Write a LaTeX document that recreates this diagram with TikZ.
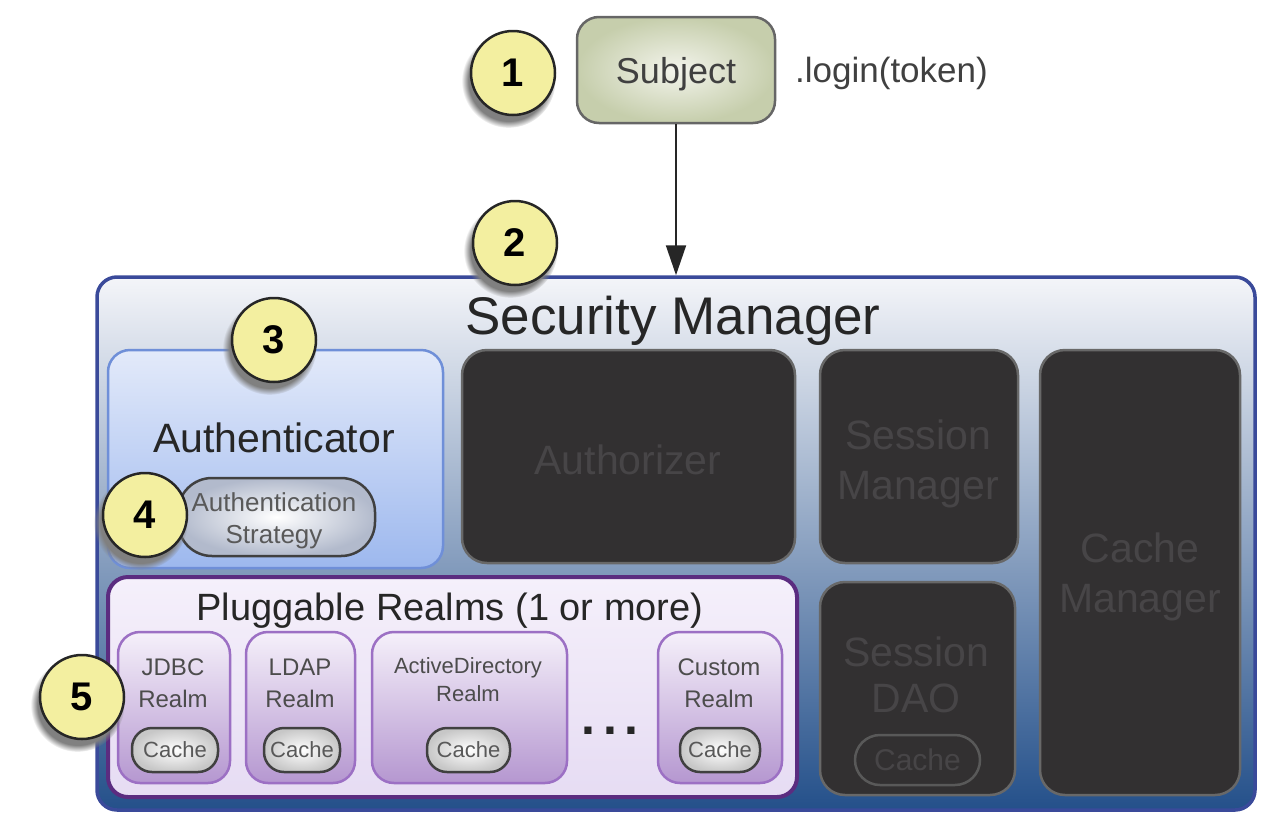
\documentclass[tikz,border=0pt]{standalone}
\usepackage{fontspec}
\setmainfont{Liberation Sans}
\usetikzlibrary{shadows,arrows.meta}

\definecolor{numfill}{HTML}{F3EFA0}
\definecolor{subjin}{HTML}{F3F4EC}
\definecolor{subjout}{HTML}{C6CEAC}
\definecolor{smline}{HTML}{3A4A9A}
\definecolor{smtop}{HTML}{F4F5F9}
\definecolor{smmid}{HTML}{BCC9D7}
\definecolor{smbot}{HTML}{24508A}
\definecolor{authline}{HTML}{6F8FD8}
\definecolor{authtop}{HTML}{E3EAFA}
\definecolor{authbot}{HTML}{9DB8EE}
\definecolor{stratout}{HTML}{B2BACC}
\definecolor{darkfill}{HTML}{323031}
\definecolor{darkline}{HTML}{686868}
\definecolor{darktxt}{HTML}{474547}
\definecolor{realmsline}{HTML}{5B2C80}
\definecolor{realmstop}{HTML}{F5F0FB}
\definecolor{realmsbot}{HTML}{E6DCF3}
\definecolor{realmline}{HTML}{9C70C4}
\definecolor{realmtop}{HTML}{F5F0FA}
\definecolor{realmmid}{HTML}{D8C6E8}
\definecolor{realmbot}{HTML}{B597D0}

\begin{document}
\begin{tikzpicture}
[x=1pt,y=-1pt,%
  every node/.style={align=center,inner sep=0pt},%
  num/.style={circle,draw=black!85,line width=2.5pt,fill=numfill,minimum size=84pt,
    font=\fontsize{40}{40}\selectfont\bfseries,
    circular drop shadow={shadow xshift=-4pt,shadow yshift=-7pt,shadow scale=1.12}},%
  subjbox/.style={draw=black!60,line width=2.5pt,rounded corners=22pt,
    inner color=subjin,outer color=subjout,minimum width=198pt,minimum height=106pt,
    font=\fontsize{36}{40}\selectfont,text=black!75,text depth=0pt},%
  smbox/.style={draw=smline,line width=3.5pt,rounded corners=20pt,
    top color=smtop,middle color=smmid,bottom color=smbot},%
  authbox/.style={draw=authline,line width=2.5pt,rounded corners=22pt,
    top color=authtop,bottom color=authbot},%
  pill/.style={draw=black!75,line width=2.5pt,rounded corners=20pt,
    inner color=white,outer color=black!22,text=black!65},%
  darkbox/.style={draw=darkline,line width=2.5pt,rounded corners=25pt,fill=darkfill},%
  darklabel/.style={text=darktxt,font=\fontsize{41}{50}\selectfont},%
  realmsbox/.style={draw=realmsline,line width=4pt,rounded corners=20pt,
    top color=realmstop,bottom color=realmsbot},%
  realmbox/.style={draw=realmline,line width=2.5pt,rounded corners=22pt,
    top color=realmtop,middle color=realmmid,bottom color=realmbot,minimum height=151pt},%
  realmtxt/.style={text=black!70,font=\fontsize{24}{32}\selectfont},%
  cache/.style={pill,minimum width=#1,minimum height=44pt,font=\fontsize{22}{24}\selectfont}]
\useasboundingbox (0,0) rectangle (1265,825);

\node[subjbox] (subj) at (676,70) {Subject};
\node[anchor=west,font=\fontsize{35}{40}\selectfont,text=black!75] (login) at (795,73) {.login(token)};
\node[num] (n1) at (513,73) {1};

\node[smbox,minimum width=1158pt,minimum height=533pt] (sm) at (676,543.5) {};
\node[font=\fontsize{53}{60}\selectfont,text=black!85] (smtitle) at (673,321) {Security Manager};
\draw[line width=2pt,black!85,-{Triangle[length=30pt,width=20pt]}] (subj.south) -- (sm.north);
\node[num] (n2) at (515,243) {2};

% authentication
\node[authbox,minimum width=335pt,minimum height=218pt] (auth) at (275.5,459) {};
\node[font=\fontsize{41}{48}\selectfont,text=black!85] (authtxt) at (274,438) {Authenticator};
\node[num] (n3) at (274,340) {3};
\node[pill,outer color=stratout,rounded corners=34pt,minimum width=197pt,minimum height=78pt] (strat) at (276.5,517) {};
\node[text=black!65,font=\fontsize{26}{32}\selectfont] (strattxt) at (274,521) {Authentication\\Strategy};
\node[num] (n4) at (145,515) {4};

% the other components
\node[darkbox,minimum width=333pt,minimum height=213pt] (authz) at (628.5,456.5) {};
\node[darklabel] (authztxt) at (628,460) {Authorizer};
\node[darkbox,minimum width=198pt,minimum height=213pt] (sessmgr) at (919,456.5) {};
\node[darklabel] (sessmgrtxt) at (918,464) {Session\\Manager};
\node[darkbox,minimum width=200pt,minimum height=445pt] (cachemgr) at (1140,572.5) {};
\node[darklabel] (cachemgrtxt) at (1140,577) {Cache\\Manager};
\node[darkbox,minimum width=195pt,minimum height=213pt] (sessdao) at (917.5,688.5) {};
\node[darklabel,font=\fontsize{41}{46}\selectfont] (daotxt) at (916,675) {Session\\DAO};
\node[draw=black!65,line width=2.5pt,rounded corners=25pt,minimum width=125pt,minimum height=50pt,
  text=darktxt,font=\fontsize{30}{32}\selectfont] (daocache) at (917.5,760) {Cache};

% realms
\node[realmsbox,minimum width=689pt,minimum height=220pt] (realms) at (452.5,687) {};
\node[font=\fontsize{38}{44}\selectfont,text=black!85] (realmstitle) at (450,611) {Pluggable Realms (1 or more)};
\node[realmbox,minimum width=112pt] (jdbc) at (174,707.5) {};
\node[realmtxt] (jdbctxt) at (173,683) {JDBC\\Realm};
\node[cache=86pt] (jdbccache) at (175,750) {Cache};
\node[realmbox,minimum width=109pt] (ldap) at (300.5,707.5) {};
\node[realmtxt] (ldaptxt) at (300,683) {LDAP\\Realm};
\node[cache=76pt] (ldapcache) at (302,750) {Cache};
\node[realmbox,minimum width=195pt] (ad) at (469.5,707.5) {};
\node[realmtxt,font=\fontsize{22}{28}\selectfont] (adtxt) at (468,680) {ActiveDirectory\\Realm};
\node[cache=83pt] (adcache) at (468.5,750) {Cache};
\node[font=\fontsize{50}{50}\selectfont\bfseries,text=black!85] (dots) at (610,731) {.\hspace{8pt}.\hspace{8pt}.};
\node[realmbox,minimum width=124pt] (custom) at (720,707.5) {};
\node[realmtxt] (customtxt) at (719,683) {Custom\\Realm};
\node[cache=80pt] (customcache) at (720,750) {Cache};
\node[num] (n5) at (82,697) {5};
\end{tikzpicture}
\end{document}
